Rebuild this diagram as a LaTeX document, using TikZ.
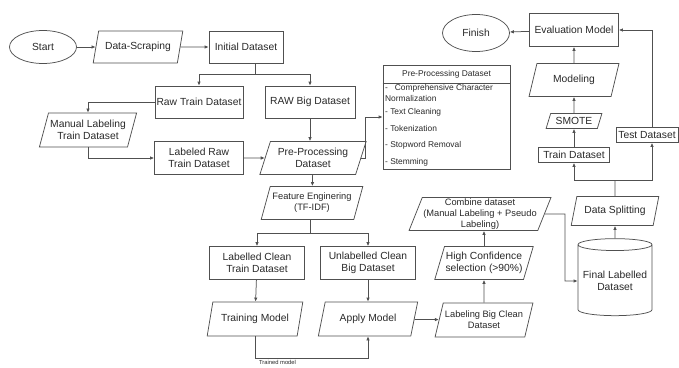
\documentclass[tikz,border=0pt]{standalone}
\usepackage{fontspec}
\setmainfont{Liberation Sans}
\usetikzlibrary{shapes.geometric,arrows.meta}

\definecolor{linegray}{RGB}{80,80,80}
\definecolor{textgray}{RGB}{40,40,40}
\newcommand{\mainsz}{\fontsize{10.3}{12.5}\selectfont}
\newcommand{\smallsz}{\fontsize{9.3}{11}\selectfont}
\newcommand{\ppsz}{\fontsize{8.4}{9.5}\selectfont}
\newcommand{\tinysz}{\fontsize{5.8}{7}\selectfont}

\tikzset{every picture/.style={line width=0.75pt}}
\tikzset{
  procbox/.style={draw=linegray, rectangle, align=center, inner sep=1pt, text=textgray, font=\mainsz},
  iobox/.style={draw=linegray, trapezium, trapezium left angle=68, trapezium right angle=112,
    trapezium stretches=true, align=center, inner sep=1pt, text=textgray, font=\mainsz},
  termbox/.style={draw=linegray, ellipse, inner sep=1pt, text=textgray, font=\mainsz},
  cylbox/.style={draw=linegray, cylinder, shape border rotate=90, aspect=0.18, align=center,
    inner sep=1pt, text=textgray, font=\mainsz},
  pptext/.style={anchor=west, inner sep=0.75pt, text=textgray, font=\ppsz},
  arr/.style={draw=linegray, -{Latex[length=4pt,width=3.5pt]}},
  link/.style={draw=linegray},
}

\begin{document}
\begin{tikzpicture}[x=1pt,y=1pt,yscale=-1,xscale=1]
\path[use as bounding box] (0,0) rectangle (679,367);

%Shape: Ellipse [Start] 
\node[termbox, minimum width=67, minimum height=33] (Start) at (43,47) {Start};
%Shape: Parallelogram [Data-Scraping] 
\node[iobox, minimum width=90, minimum height=32] (Scrape) at (138,47) {Data-Scraping};
%Shape: Rectangle [Initial Dataset] 
\node[procbox, minimum width=74, minimum height=32] (Initial) at (246,47) {Initial Dataset};
%Shape: Rectangle [Raw Train Dataset] 
\node[procbox, minimum width=88, minimum height=32] (RawTrain) at (199,102) {Raw Train Dataset};
%Shape: Rectangle [RAW Big Dataset] 
\node[procbox, minimum width=90, minimum height=32] (RawBig) at (310,102) {RAW Big Dataset};
%Shape: Parallelogram [Manual Labeling] 
\node[iobox, minimum width=98, minimum height=34] (Manual) at (88,130) {Manual Labeling\\Train Dataset};
%Shape: Rectangle [Labeled Raw] 
\node[procbox, minimum width=89, minimum height=33] (LabRaw) at (199,158) {Labeled Raw\\Train Dataset};
%Shape: Parallelogram [Pre-Processing] 
\node[iobox, minimum width=107, minimum height=33] (PreProc) at (313,158) {Pre-Processing\\Dataset};
%Shape: Parallelogram [Feature Enginering] 
\node[iobox, minimum width=102, minimum height=33, font=\smallsz] (Feature) at (312,203) {Feature Enginering\\(TF-IDF)};
%Shape: Rectangle [Labelled Clean] 
\node[procbox, minimum width=95, minimum height=33] (LabClean) at (257,263) {Labelled Clean\\Train Dataset};
%Shape: Rectangle [Unlabelled Clean] 
\node[procbox, minimum width=95, minimum height=33] (UnlabClean) at (368,263) {Unlabelled Clean\\Big Dataset};
%Shape: Parallelogram [Training Model] 
\node[iobox, minimum width=96, minimum height=34] (Training) at (255,319) {Training Model};
%Shape: Parallelogram [Apply Model] 
\node[iobox, minimum width=100, minimum height=34] (Apply) at (368,319) {Apply Model};
%Shape: Parallelogram [Labeling Big Clean] 
\node[iobox, minimum width=98, minimum height=34, font=\smallsz] (LabBig) at (484,320) {Labeling Big Clean\\Dataset};
%Shape: Parallelogram [High Confidence] 
\node[iobox, minimum width=99, minimum height=33] (HighConf) at (484,263) {High Confidence\\selection (>90\%)};
%Shape: Parallelogram [Combine dataset] 
\node[iobox, minimum width=127, minimum height=33, font=\smallsz] (Combine) at (480,214) {Combine dataset\\(Manual Labeling + Pseudo\\Labeling)};
%Shape: Can [Final Labelled] 
\node[cylbox, minimum width=74, minimum height=77] (Final) at (615,281) {Final Labelled\\Dataset};
%Shape: Parallelogram [Data Splitting] 
\node[iobox, minimum width=88, minimum height=29] (Split) at (615,211) {Data Splitting};
%Shape: Rectangle [Train Dataset] 
\node[procbox, minimum width=71, minimum height=15] (TrainDS) at (574,155) {Train Dataset};
%Shape: Rectangle [Test Dataset] 
\node[procbox, minimum width=62, minimum height=15] (TestDS) at (647,135) {Test Dataset};
%Shape: Parallelogram [SMOTE] 
\node[iobox, minimum width=56, minimum height=15] (Smote) at (574,121) {SMOTE};
%Shape: Parallelogram [Modeling] 
\node[iobox, minimum width=90, minimum height=33] (Modeling) at (574,80) {Modeling};
%Shape: Rectangle [Evaluation Model] 
\node[procbox, minimum width=89, minimum height=33] (Eval) at (574,30) {Evaluation Model};
%Shape: Ellipse [Finish] 
\node[termbox, minimum width=67, minimum height=37] (Finish) at (476,33) {Finish};

%Shape: Rectangle [Pre-Processing list] 
\node[draw=linegray, minimum width=127, minimum height=104, inner sep=0pt] (PPBox) at (446.5,117) {};
\coordinate (ppRule) at (0,83);
\draw[link] (PPBox.west |- ppRule) -- (PPBox.east |- ppRule);
% Text Node
\node[inner sep=0.75pt, text=textgray, font=\ppsz] (PPTitle) at (446.5,74) {Pre-Processing Dataset};
\node[pptext] (ppA) at (384,88) {-\hspace{7pt}Comprehensive Character};
\node[pptext] (ppAb) at (384,98) {Normalization};
\node[pptext] (ppB) at (384,112) {- Text Cleaning};
\node[pptext] (ppC) at (384,128) {- Tokenization};
\node[pptext] (ppD) at (384,145) {- Stopword Removal};
\node[pptext] (ppE) at (384,162) {- Stemming};

%Straight Lines 
\draw[arr] (Start) -- (Scrape);
\draw[arr] (Scrape) -- (Initial);
\coordinate (splitA) at (255,74);
\draw[link] (Initial.south -| splitA) -- (splitA);
\draw[arr] (splitA) -| (RawTrain.north);
\draw[arr] (splitA) -| (RawBig.north);
\draw[arr] (RawTrain.west) -| (Manual.north);
\draw[arr] (Manual.south) |- (LabRaw.west);
\draw[arr] (LabRaw) -- (PreProc);
\draw[arr] (RawBig.south) -- (RawBig.south |- PreProc.north);
\draw[arr] (PreProc.east) -| ([xshift=-17pt]PPBox.west) -- (PPBox.west);
\draw[arr] (PreProc) -- (Feature);
\coordinate (splitB) at (310,233);
\draw[link] (Feature.south -| splitB) -- (splitB);
\draw[arr] (splitB) -| (LabClean.north);
\draw[arr] (splitB) -| (UnlabClean.north);
\draw[arr] (LabClean) -- (Training);
\draw[arr] (UnlabClean) -- (Apply);
\coordinate (trainedBend) at (257,358);
\draw[arr] (Training.south) |- (trainedBend -| Apply.south) -- (Apply.south);
% Text Node
\node[anchor=north west, inner sep=0.75pt, text=textgray, font=\tinysz] (TrainedLbl) at (258,359) {Trained model};
\draw[arr] (Apply) -- (LabBig);
\draw[arr] (LabBig) -- (HighConf);
\draw[arr] (HighConf.north) -- (HighConf.north |- Combine.south);
\coordinate (combBend) at (565,214);
\draw[arr] (Combine.east) -- (combBend) |- (Final.west);
\draw[arr] (Final.north) -- (Split.south);
\coordinate (splitC) at (615,180);
\draw[link] (Split.north) -- (splitC);
\draw[arr] (splitC) -| (TrainDS.south);
\draw[arr] (splitC) -| ([xshift=5pt]TestDS.south);
\draw[arr] (TrainDS) -- (Smote);
\draw[arr] (Smote) -- (Modeling);
\draw[arr] (Modeling) -- (Eval);
\draw[arr] ([xshift=5pt]TestDS.north) |- (Eval.east);
\draw[arr] (Eval) -- (Finish);

\end{tikzpicture}
\end{document}
